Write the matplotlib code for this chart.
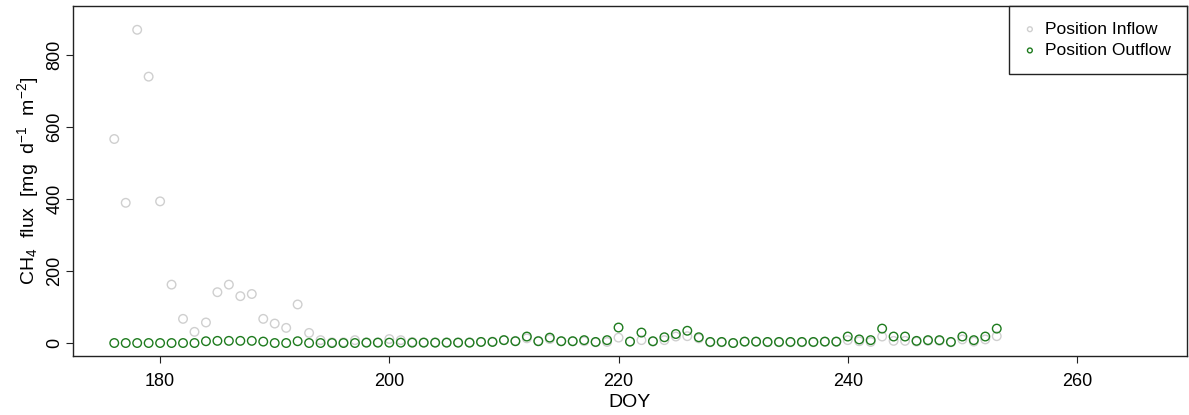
import numpy as np
import matplotlib
matplotlib.use("Agg")
from matplotlib import pyplot as plt

plt.rcParams['font.family'] = ['Liberation Sans', 'DejaVu Sans']
plt.rcParams['mathtext.fontset'] = 'custom'
plt.rcParams['mathtext.rm'] = 'Liberation Sans'
plt.rcParams['mathtext.it'] = 'Liberation Sans'

doy = list(range(176, 254))
inflow = [566, 389, 869, 739, 393, 162, 67, 31, 57, 141,
          162, 130, 136, 67, 54, 42, 107, 28, 8, 2,
          2, 8, 2, 2, 11, 8, 3, 2, 2, 2,
          2, 2, 3, 4, 8, 6, 13, 6, 11, 5,
          5, 5, 2, 3, 15, 4, 8, 4, 8, 18,
          19, 13, 2, 2, 0, 3, 3, 2, 2, 2,
          2, 2, 3, 3, 8, 5, 3, 18, 6, 6,
          4, 6, 6, 2, 10, 4, 10, 19]
outflow = [0, 0, 0, 0, 0, 0, 0, 0, 5, 6,
           6, 6, 6, 4, 0, 0, 5, 0, 0, 0,
           0, 0, 1, 1, 1, 1, 1, 1, 1, 1,
           1, 1, 3, 3, 8, 5, 18, 5, 15, 5,
           5, 8, 3, 8, 43, 4, 29, 5, 16, 25,
           34, 16, 3, 3, 0, 4, 4, 3, 3, 3,
           3, 3, 4, 4, 18, 10, 8, 40, 18, 18,
           6, 8, 8, 3, 18, 8, 18, 40]

GRAY = "#cfcfcf"
GREEN = "#1e7b1e"

fig = plt.figure(figsize=(11.89, 4.15), dpi=100)
ax = fig.add_axes([73/1189, 59/415, 1114/1189, 350/415])

ax.scatter(doy, inflow, s=38, facecolors='none', edgecolors=GRAY, linewidths=1.0)
ax.scatter(doy, outflow, s=38, facecolors='none', edgecolors=GREEN, linewidths=1.0)

ax.set_xlim(172.4, 269.6)
ax.set_ylim(-36, 935)
ax.set_xticks([180, 200, 220, 240, 260])
ax.set_yticks([0, 200, 400, 600, 800])
for lab in ax.get_yticklabels():
    lab.set_rotation(90)
    lab.set_va('center')
ax.tick_params(axis='both', length=5, width=0.8, labelsize=13, color='#222222')
ax.tick_params(axis='x', pad=7)
ax.tick_params(axis='y', pad=2)
for s in ax.spines.values():
    s.set_linewidth(1.0)
    s.set_color('#222222')

ax.set_xlabel("DOY", fontsize=14, labelpad=3)
ax.set_ylabel(r'CH$_4$  flux  [mg  d$^{-1}$  m$^{-2}$]', fontsize=14, labelpad=4)

h1 = ax.scatter([], [], s=12, facecolors='none', edgecolors=GRAY, linewidths=1.0)
h2 = ax.scatter([], [], s=12, facecolors='none', edgecolors=GREEN, linewidths=1.0)
leg = ax.legend([h1, h2], ["Position Inflow", "Position Outflow"], loc='upper right',
                borderaxespad=0, fancybox=False, edgecolor='#222222', framealpha=1,
                fontsize=12.5, handlelength=0.6, handletextpad=0.6, borderpad=0.9,
                labelspacing=0.35)
leg.get_frame().set_linewidth(1.0)

plt.savefig("out.png", dpi=100)
